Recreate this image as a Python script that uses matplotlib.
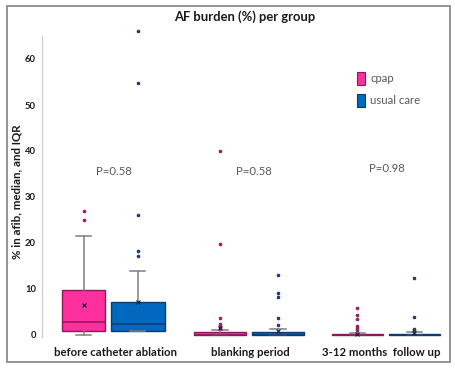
import matplotlib
matplotlib.use("Agg")
import matplotlib.pyplot as plt
from matplotlib.patches import Patch, Rectangle

plt.rcParams['font.family'] = ['Lato', 'DejaVu Sans']

W, H = 455, 369
group_labels = ["before catheter ablation", "blanking period", "3-12 months  follow up"]
label_pos = [0.033, 1.015, 1.967]
series_names = ["cpap", "usual care"]
p_values = ["P=0.58", "P=0.58", "P=0.98"]
p_pos = [0.026, 1.044, 2.011]
p_y = [35.6, 35.6, 36.1]

positions = [-0.196, 0.198, 0.796, 1.218, 1.796, 2.211]
widths = [0.313, 0.393, 0.378, 0.378, 0.371, 0.371]

whislo = [0, 0.8, 0, 0, 0, 0]
q1 = [0.9, 0.9, 0, 0, 0, 0]
med = [2.75, 2.4, 0.1, 0.1, 0.05, 0.05]
q3 = [9.7, 7.2, 0.6, 0.7, 0.2, 0.2]
whishi = [21.6, 14, 1.0, 1.4, 0.5, 0.65]
means = [6.5, 7.1, 1.6, 0.9, 0.3, 0.4]
fliers = [
    [25, 27],
    [17.2, 18.2, 26, 54.8, 66],
    [1.5, 2.0, 2.4, 3.6, 19.7, 40],
    [2.1, 3.8, 8.2, 9.2, 13],
    [1.1, 1.5, 2.0, 3.4, 4.4, 5.9],
    [1.0, 1.4, 4.0, 12.3],
]

pink, blue = "#FF2F9E", "#0068BF"
pink_edge, blue_edge = "#8A1A5A", "#103A70"
pink_dot, blue_dot = "#9C1F55", "#1A3F70"
gray = "#7F7F7F"
text_dark = "#1A1A1A"
text_gray = "#5A5A5A"

fig = plt.figure(figsize=(W / 100, H / 100), dpi=100, facecolor="white")
ax = fig.add_axes([41.5 / W, 1 - 337.3 / H, (445 - 41.5) / W, (337.3 - 36) / H])
ax.set_xlim(-0.502, 2.433)
ax.set_ylim(-0.5, 65)

for i in range(6):
    is_pink = i % 2 == 0
    stats = [dict(whislo=whislo[i], q1=q1[i], med=med[i], q3=q3[i], whishi=whishi[i],
                  mean=means[i], fliers=fliers[i])]
    dot = pink_dot if is_pink else blue_dot
    edge = pink_edge if is_pink else blue_edge
    b = ax.bxp(stats, positions=[positions[i]], widths=[widths[i]], patch_artist=True,
               showmeans=True, manage_ticks=False,
               boxprops=dict(facecolor=pink if is_pink else blue, edgecolor=edge, linewidth=1.0),
               medianprops=dict(color=edge, linewidth=1.1),
               whiskerprops=dict(color=gray, linewidth=1.1),
               capprops=dict(color=gray, linewidth=1.1),
               capwidths=[0.11],
               meanprops=dict(marker="x", markeredgecolor="#1A1A3A", markerfacecolor="none",
                              markersize=3.5, markeredgewidth=0.8),
               flierprops=dict(marker="o", markerfacecolor=dot, markeredgecolor=dot, markersize=1.6))
    for f in b["fliers"]:
        f.set_clip_on(False)

for s in ("top", "right", "bottom"):
    ax.spines[s].set_visible(False)
ax.spines["left"].set_color("#D0D0D0")
ax.spines["left"].set_linewidth(1.0)

ax.set_yticks([0, 10, 20, 30, 40, 50, 60])
ax.tick_params(axis="y", length=0, pad=4, labelsize=6.8, labelcolor=text_dark)
for t in ax.get_yticklabels():
    t.set_fontweight("bold")
ax.set_xticks(label_pos)
ax.set_xticklabels(group_labels, fontsize=8.2, fontweight="bold", color=text_dark)
ax.tick_params(axis="x", length=0, pad=7)

for x, y, s in zip(p_pos, p_y, p_values):
    ax.text(x, y, s, fontsize=8.2, color=text_gray, ha="center", va="center")

ax.set_ylabel("% in afib, median, and IQR", fontsize=8.3, fontweight="bold", color=text_dark)
ax.yaxis.set_label_coords((22 - 41.5) / (445 - 41.5), (337.3 - 192) / (337.3 - 36))

fig.text(245 / W, 1 - 17 / H, "AF burden (%) per group", fontsize=9.4, fontweight="bold",
         color=text_dark, ha="center", va="center")

handles = [Patch(facecolor=pink, edgecolor=pink_edge, linewidth=0.8),
           Patch(facecolor=blue, edgecolor=blue_edge, linewidth=0.8)]
ax.legend(handles, series_names, loc="upper left",
          bbox_to_anchor=((354.7 - 41.5) / (445 - 41.5), (337.3 - 69.5) / (337.3 - 36)),
          frameon=False, fontsize=8.2, labelcolor=text_gray, handlelength=0.7, handleheight=1.35,
          handletextpad=0.45, labelspacing=0.85, borderpad=0.2, borderaxespad=0)

fig.add_artist(Rectangle((6.5 / W, 1 - 361.5 / H), (450 - 6.5) / W, (361.5 - 6) / H,
                         transform=fig.transFigure, fill=False, edgecolor="#808080", linewidth=1.2))

fig.savefig("out.png", dpi=100)
